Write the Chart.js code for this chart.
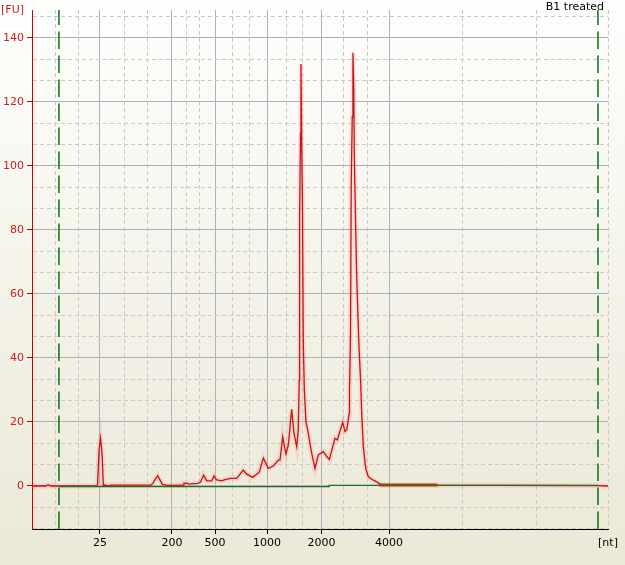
<!DOCTYPE html>
<html>
<head>
<meta charset="utf-8">
<script src="https://cdn.jsdelivr.net/npm/chart.js@4.4.1/dist/chart.umd.min.js"></script>
<style>
    html, body { margin: 0; padding: 0; }
    body { width: 625px; height: 565px; background: linear-gradient(#fefefd, #ebe8d6); overflow: hidden; }
    #wrap { position: relative; width: 625px; height: 565px; }
</style>
</head>
<body>
<div id="wrap"><canvas id="electro"></canvas></div>
<script>
// migration time (s) and fluorescence of the sample trace
const traceTime = [
    20.0, 21.2, 21.4, 21.6, 25.6, 25.69, 25.82, 25.95, 26.01, 26.1, 26.19, 26.3, 26.6, 26.92,
    30.31, 30.5, 30.72, 30.91, 31.11, 31.31, 31.78, 33.11, 33.19, 33.5, 33.59, 34.41, 34.63,
    34.89, 35.17, 35.6, 35.8, 36.03, 36.47, 36.75, 37.25, 37.77, 38.34, 38.64, 39.16, 39.73,
    40.08, 40.51, 40.95, 41.38, 41.53, 41.76, 41.92, 42.05, 42.25, 42.54, 42.74, 42.98, 43.11,
    43.2, 43.23, 43.31, 43.35, 43.4, 43.48, 43.55, 43.64, 43.78, 43.98, 44.28, 44.57, 44.85,
    45.29, 45.58, 45.81, 46.3, 46.5, 46.68, 46.97, 47.17, 47.32, 47.54, 47.56, 47.65, 47.71,
    47.8, 47.86, 47.93, 47.98, 48.1, 48.19, 48.3, 48.39, 48.53, 48.62, 48.76, 48.97, 49.19,
    49.49, 49.92, 50.21, 50.56, 60.0, 69.1, 70.0
];
const traceFU = [
    0, 0, 0.4, 0, 0, 0.6, 11.2, 14.9, 12.8, 8.8, 0.2, 0.3, 0, 0.3,
    0.3, 0.8, 2.2, 3.2, 1.9, 0.5, 0.2, 0.3, 0.9, 0.8, 0.6, 0.8, 1.25,
    3.4, 1.6, 1.6, 3.1, 1.9, 1.6, 2.0, 2.4, 2.4, 5.0, 3.7, 2.7, 4.3,
    8.7, 5.5, 6.25, 8.1, 8.1, 15.4, 12.2, 10.0, 12.8, 24.0, 16.5, 12.3, 17.5,
    33.1, 84.1, 110.3, 131.9, 110.3, 86.3, 44.7, 30.0, 20.1, 16.5, 10.2, 5.5, 9.7,
    10.7, 9.2, 8.3, 14.9, 14.4, 16.5, 19.9, 17.0, 17.5, 22.7, 30.0, 47.2, 94.1,
    115.4, 135.4, 124.7, 102.5, 80.0, 65.0, 52.5, 43.1, 32.5, 22.7, 12.3, 5.5, 2.9,
    2.1, 1.3, 0.6, 0.2, 0.2, 0.1, 0
];

// ladder peaks: size label and migration time
const ladderSizes = ['25', '200', '500', '1000', '2000', '4000'];
const ladderTime = [25.9, 32.15, 35.89, 40.4, 45.13, 51.0];
const minorGridTime = [22.0, 24.0, 28.0, 30.0, 33.45, 34.58, 37.4, 38.9, 42.05, 43.52, 47.08, 49.08, 57.33, 63.75, 70.0];

const yMajorTicks = [0, 20, 40, 60, 80, 100, 120, 140];
const xMin = 20, xMax = 70;
const yMin = -13.44, yMax = 148.75;

// lower / upper marker, baseline and the brown region on the baseline
const markerTime = [22.34, 69.13];
const baselineTime = [22.34, 45.8, 45.8, 69.13];
const baselineFU = [-0.2, -0.2, 0.2, 0.2];
const regionTime = [50.1, 55.2];
const regionFU = [0.3, 0.3];

const FONT = { family: 'DejaVu Sans', size: 11 };

function toPoints(xs, ys) {
    return xs.map((x, i) => ({ x: x, y: ys[i] }));
}

function isLadder(v) {
    return ladderTime.some(t => Math.abs(t - v) < 1e-6);
}

function isMajorY(v) {
    return yMajorTicks.some(t => Math.abs(t - v) < 1e-6);
}

const markerSets = markerTime.map(t => ({
    data: [{ x: t, y: yMin }, { x: t, y: yMax }],
    borderColor: '#19791a',
    borderWidth: 1.6,
    borderDash: [17.5, 6.5],
    pointRadius: 0,
    order: 0,
}));

const titlePlugin = {
    id: 'cornerTitle',
    afterDraw(chart) {
        const ctx = chart.ctx;
        ctx.save();
        ctx.font = '11px "DejaVu Sans"';
        ctx.fillStyle = '#000';
        ctx.textAlign = 'right';
        ctx.textBaseline = 'top';
        ctx.fillText('B1 treated', chart.chartArea.right - 4, 2);
        ctx.restore();
    }
};

new Chart(document.getElementById('electro'), {
    type: 'line',
    data: {
        datasets: [
            ...markerSets,
            {
                data: toPoints(regionTime, regionFU),
                borderColor: '#8a4a17',
                borderWidth: 3,
                pointRadius: 0,
                order: 1,
            },
            {
                data: toPoints(baselineTime, baselineFU),
                borderColor: '#1f6e1f',
                borderWidth: 1.2,
                pointRadius: 0,
                order: 2,
            },
            {
                data: toPoints(traceTime, traceFU),
                borderColor: '#c41414',
                borderWidth: 1.3,
                pointRadius: 0,
                order: 3,
            },
            {
                data: toPoints(traceTime, traceFU),
                borderColor: 'rgba(255, 110, 110, 0.18)',
                borderWidth: 5,
                pointRadius: 0,
                order: 4,
            },
        ],
    },
    options: {
        responsive: true,
        maintainAspectRatio: false,
        animation: false,
        layout: { padding: { top: 10, right: 17, left: 0, bottom: 0 } },
        plugins: {
            legend: { display: false },
            tooltip: { enabled: false },
        },
        scales: {
            x: {
                type: 'linear',
                min: xMin,
                max: xMax,
                afterBuildTicks: scale => {
                    const vals = [...ladderTime, ...minorGridTime].sort((a, b) => a - b);
                    scale.ticks = vals.map(v => ({ value: v }));
                },
                afterFit: scale => { scale.height = 36; },
                ticks: {
                    autoSkip: false,
                    maxRotation: 0,
                    padding: 3,
                    color: '#000',
                    font: FONT,
                    callback: value => {
                        const i = ladderTime.findIndex(t => Math.abs(t - value) < 1e-6);
                        if (i >= 0) return ladderSizes[i];
                        if (Math.abs(value - xMax) < 1e-6) return '[nt]';
                        return '';
                    },
                },
                grid: {
                    color: ctx => isLadder(ctx.tick.value) ? '#aab2bd' : '#c9c9c9',
                    lineWidth: 1,
                    tickLength: 5,
                    tickColor: ctx => isLadder(ctx.tick.value) ? '#000' : 'rgba(0,0,0,0)',
                },
                border: {
                    color: '#000',
                    width: 1,
                    dash: ctx => (ctx.tick && !isLadder(ctx.tick.value)) ? [4, 3] : [],
                },
            },
            y: {
                type: 'linear',
                min: yMin,
                max: yMax,
                afterBuildTicks: scale => {
                    const vals = [];
                    for (let m = -20; m <= 140; m += 20) {
                        if (m >= 0) vals.push(m);
                        [m + 20 / 3, m + 40 / 3].forEach(v => {
                            if (v > yMin && v < yMax) vals.push(v);
                        });
                    }
                    vals.push(yMax);
                    scale.ticks = vals.sort((a, b) => a - b).map(v => ({ value: v }));
                },
                afterFit: scale => { scale.width = 32; },
                ticks: {
                    autoSkip: false,
                    padding: 3,
                    color: '#c81e1e',
                    font: FONT,
                    callback: value => {
                        if (isMajorY(value)) return String(Math.round(value));
                        if (Math.abs(value - yMax) < 1e-6) return '[FU]';
                        return '';
                    },
                },
                grid: {
                    color: ctx => {
                        const v = ctx.tick.value;
                        if (Math.abs(v - yMax) < 1e-6) return 'rgba(0,0,0,0)';
                        return isMajorY(v) ? '#aab2bd' : '#c9c9c9';
                    },
                    lineWidth: 1,
                    tickLength: 5,
                    tickColor: ctx => isMajorY(ctx.tick.value) ? '#cc0000' : 'rgba(0,0,0,0)',
                },
                border: {
                    color: '#cc0000',
                    width: 1,
                    dash: ctx => (ctx.tick && !isMajorY(ctx.tick.value)) ? [4, 3] : [],
                },
            },
        },
    },
    plugins: [titlePlugin],
});
</script>
</body>
</html>
